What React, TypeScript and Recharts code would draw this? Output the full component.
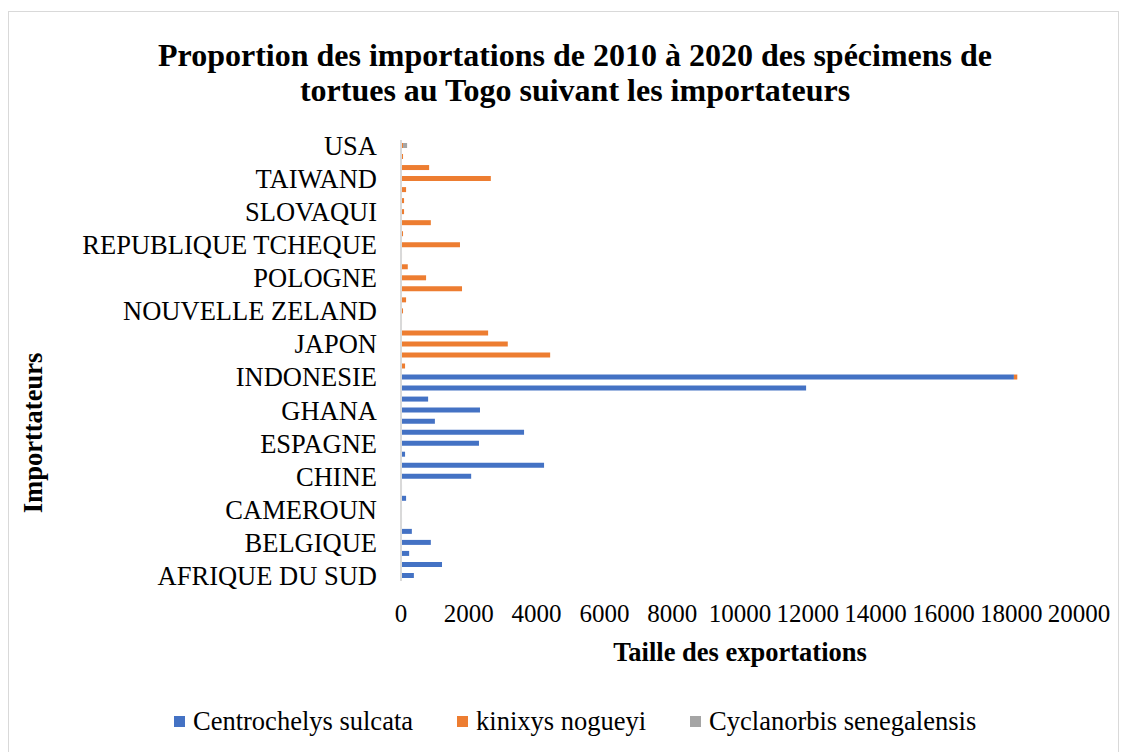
import React from 'react';
import { BarChart, Bar, XAxis, YAxis, Legend } from 'recharts';

const categories: string[] = [
  'USA', '', '',
  'TAIWAND', '', '',
  'SLOVAQUI', '', '',
  'REPUBLIQUE TCHEQUE', '', '',
  'POLOGNE', '', '',
  'NOUVELLE ZELAND', '', '',
  'JAPON', '', '',
  'INDONESIE', '', '',
  'GHANA', '', '',
  'ESPAGNE', '', '',
  'CHINE', '', '',
  'CAMEROUN', '', '',
  'BELGIQUE', '', '',
  'AFRIQUE DU SUD',
];

// Centrochelys sulcata
const sulcata: number[] = [
  0, 0, 0, 0, 0, 0, 0, 0, 0, 0,
  0, 0, 0, 0, 0, 0, 0, 0, 0, 0,
  0, 18080, 11950, 800, 2330, 1000, 3630, 2300, 120, 4220,
  2070, 30, 150, 30, 30, 320, 880, 240, 1210, 380,
];

// kinixys nogueyi
const nogueyi: number[] = [
  60, 60, 830, 2650, 150, 90, 90, 880, 60, 1740,
  30, 200, 740, 1800, 150, 60, 30, 2570, 3150, 4400,
  120, 100, 0, 0, 0, 0, 0, 0, 0, 0,
  0, 0, 0, 0, 0, 0, 0, 0, 0, 0,
];

// Cyclanorbis senegalensis
const senegalensis: number[] = [
  120, 0, 0, 0, 0, 0, 0, 0, 0, 0,
  0, 0, 0, 0, 0, 0, 0, 0, 0, 0,
  0, 0, 0, 0, 0, 0, 0, 0, 0, 0,
  0, 0, 0, 0, 0, 0, 0, 0, 0, 0,
];

const xTicks: number[] = [0, 2000, 4000, 6000, 8000, 10000, 12000, 14000, 16000, 18000, 20000];

const seriesNames = ['Centrochelys sulcata', 'kinixys nogueyi', 'Cyclanorbis senegalensis'];
const seriesColors = ['#4472C4', '#ED7D31', '#A5A5A5'];

const data = categories.map((name, i) => ({
  key: i,
  name,
  sulcata: sulcata[i],
  nogueyi: nogueyi[i],
  senegalensis: senegalensis[i],
}));

const FONT = '"Liberation Serif", "Times New Roman", serif';

const renderLegend = () => {
  return (
    <div style={{ display: 'flex', flexDirection: 'row', alignItems: 'center', marginLeft: 174, fontFamily: FONT, fontSize: 26.5, color: '#000', lineHeight: '30px' }}>
      {seriesNames.map((name, idx) => (
        <div key={idx} style={{ display: 'flex', alignItems: 'center', marginRight: 44 }}>
          <span style={{ display: 'inline-block', width: 11, height: 11, background: seriesColors[idx], marginRight: 8 }} />
          <span>{name}</span>
        </div>
      ))}
    </div>
  );
};

export default function App() {
  return (
    <div style={{ position: 'absolute', left: 0, top: 0, width: 1128, height: 752, background: '#fff', overflow: 'hidden' }}>
      <div style={{ position: 'absolute', left: 8, top: 11, width: 1111, height: 760, border: '1px solid #D9D9D9', boxSizing: 'border-box' }} />
      <BarChart
        width={1128}
        height={752}
        data={data}
        layout="vertical"
        barSize={5}
        margin={{ top: 140, right: 49, left: 0, bottom: 111 }}
        style={{ position: 'absolute', left: 0, top: 0 }}
      >
        <XAxis
          type="number"
          domain={[0, 20000]}
          ticks={xTicks}
          interval={0}
          axisLine={false}
          tickLine={false}
          tickSize={0}
          tickMargin={23}
          height={60}
          tick={{ fontSize: 25, fill: '#000', fontFamily: FONT }}
        />
        <YAxis
          type="category"
          dataKey="key"
          width={401}
          interval={0}
          tickLine={false}
          tickSize={0}
          tickMargin={24}
          axisLine={{ stroke: '#D9D9D9', strokeWidth: 2 }}
          tickFormatter={(v: any) => categories[v] ?? ''}
          tick={{ fontSize: 26.5, fill: '#000', fontFamily: FONT }}
        />
        <Legend
          layout="horizontal"
          verticalAlign="middle"
          align="center"
          wrapperStyle={{ top: 706, left: 0, width: 1128 }}
          content={renderLegend}
        />
        <Bar dataKey="sulcata" name={seriesNames[0]} stackId="a" fill={seriesColors[0]} isAnimationActive={false} />
        <Bar dataKey="nogueyi" name={seriesNames[1]} stackId="a" fill={seriesColors[1]} isAnimationActive={false} />
        <Bar dataKey="senegalensis" name={seriesNames[2]} stackId="a" fill={seriesColors[2]} isAnimationActive={false} />
      </BarChart>
      <svg width={1128} height={752} style={{ position: 'absolute', left: 0, top: 0, pointerEvents: 'none' }}>
        <text x={575} y={55} dy="0.35em" textAnchor="middle" fontFamily={FONT} fontWeight="bold" fontSize={32} fill="#000">
          Proportion des importations de 2010 à 2020 des spécimens de
        </text>
        <text x={575} y={90} dy="0.35em" textAnchor="middle" fontFamily={FONT} fontWeight="bold" fontSize={32} fill="#000">
          tortues au Togo suivant les importateurs
        </text>
        <text x={740} y={652} dy="0.35em" textAnchor="middle" fontFamily={FONT} fontWeight="bold" fontSize={26.5} fill="#000">
          Taille des exportations
        </text>
        <text x={0} y={0} dy="0.35em" textAnchor="middle" fontFamily={FONT} fontWeight="bold" fontSize={26.5} fill="#000" transform="translate(33,433) rotate(-90)">
          Importtateurs
        </text>
      </svg>
    </div>
  );
}
